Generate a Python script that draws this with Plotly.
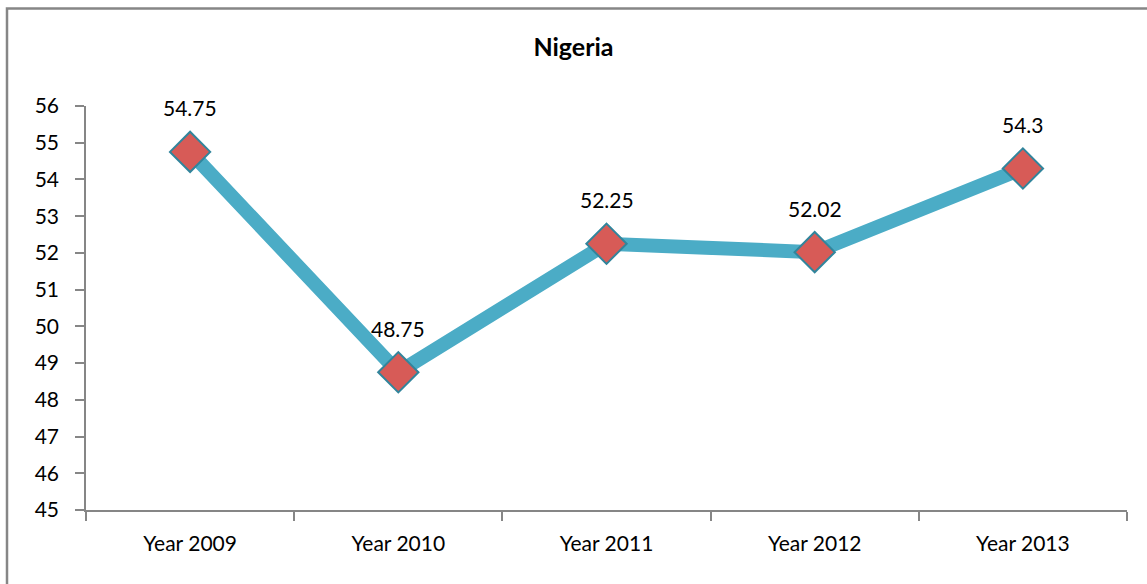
import plotly.graph_objects as go

categories = ["Year 2009", "Year 2010", "Year 2011", "Year 2012", "Year 2013"]
values = [54.75, 48.75, 52.25, 52.02, 54.3]
labels = ["54.75", "48.75", "52.25", "52.02", "54.3"]
y_ticks = list(range(45, 57))

FONT = "Lato"
W, H = 1147, 584
L, R, T, B = 86, 20, 106, 74

fig = go.Figure()
fig.add_trace(go.Scatter(
    x=categories, y=values, mode="lines+markers",
    line=dict(color="#4BACC6", width=14),
    marker=dict(symbol="diamond", size=31, color="#D75B57",
                line=dict(color="#31859C", width=2)),
    hoverinfo="skip", showlegend=False,
))

for c, v, t in zip(categories, values, labels):
    fig.add_annotation(x=c, y=v, text=t, showarrow=False, yshift=44,
                       font=dict(family=FONT, size=21, color="#000000"))

pw = W - L - R
ph = H - T - B
fig.add_shape(type="rect", xref="paper", yref="paper",
              x0=(7 - L) / pw, x1=(1160 - L) / pw,
              y0=(H - B - 600) / ph, y1=(H - B - 8.5) / ph,
              line=dict(color="#868686", width=2.5), fillcolor="rgba(0,0,0,0)",
              layer="below")

fig.update_layout(
    width=W, height=H,
    margin=dict(l=L, r=R, t=T, b=B),
    paper_bgcolor="white", plot_bgcolor="white",
    title=dict(text="<b>Nigeria</b>", x=0.5, xanchor="center", y=1 - 47 / H, yanchor="middle",
               font=dict(family=FONT, size=25, color="#000000")),
    xaxis=dict(type="category", range=[-0.5, 4.5], showgrid=False,
               showline=True, linecolor="#868686", linewidth=2,
               ticks="outside", ticklen=9, tickcolor="#868686", tickwidth=2,
               tickson="boundaries",
               tickfont=dict(family=FONT, size=21, color="#000000"),
               ticklabelstandoff=14),
    yaxis=dict(range=[45, 56], tickvals=y_ticks, showgrid=False,
               showline=True, linecolor="#868686", linewidth=1.5,
               ticks="outside", ticklen=9, tickcolor="#868686", tickwidth=1.5,
               tickfont=dict(family=FONT, size=21, color="#000000"),
               ticklabelstandoff=12,
               zeroline=False),
    font=dict(family=FONT),
)

fig.write_html("out.html", config={"displayModeBar": False},
               post_script="document.body.style.margin='0';")
